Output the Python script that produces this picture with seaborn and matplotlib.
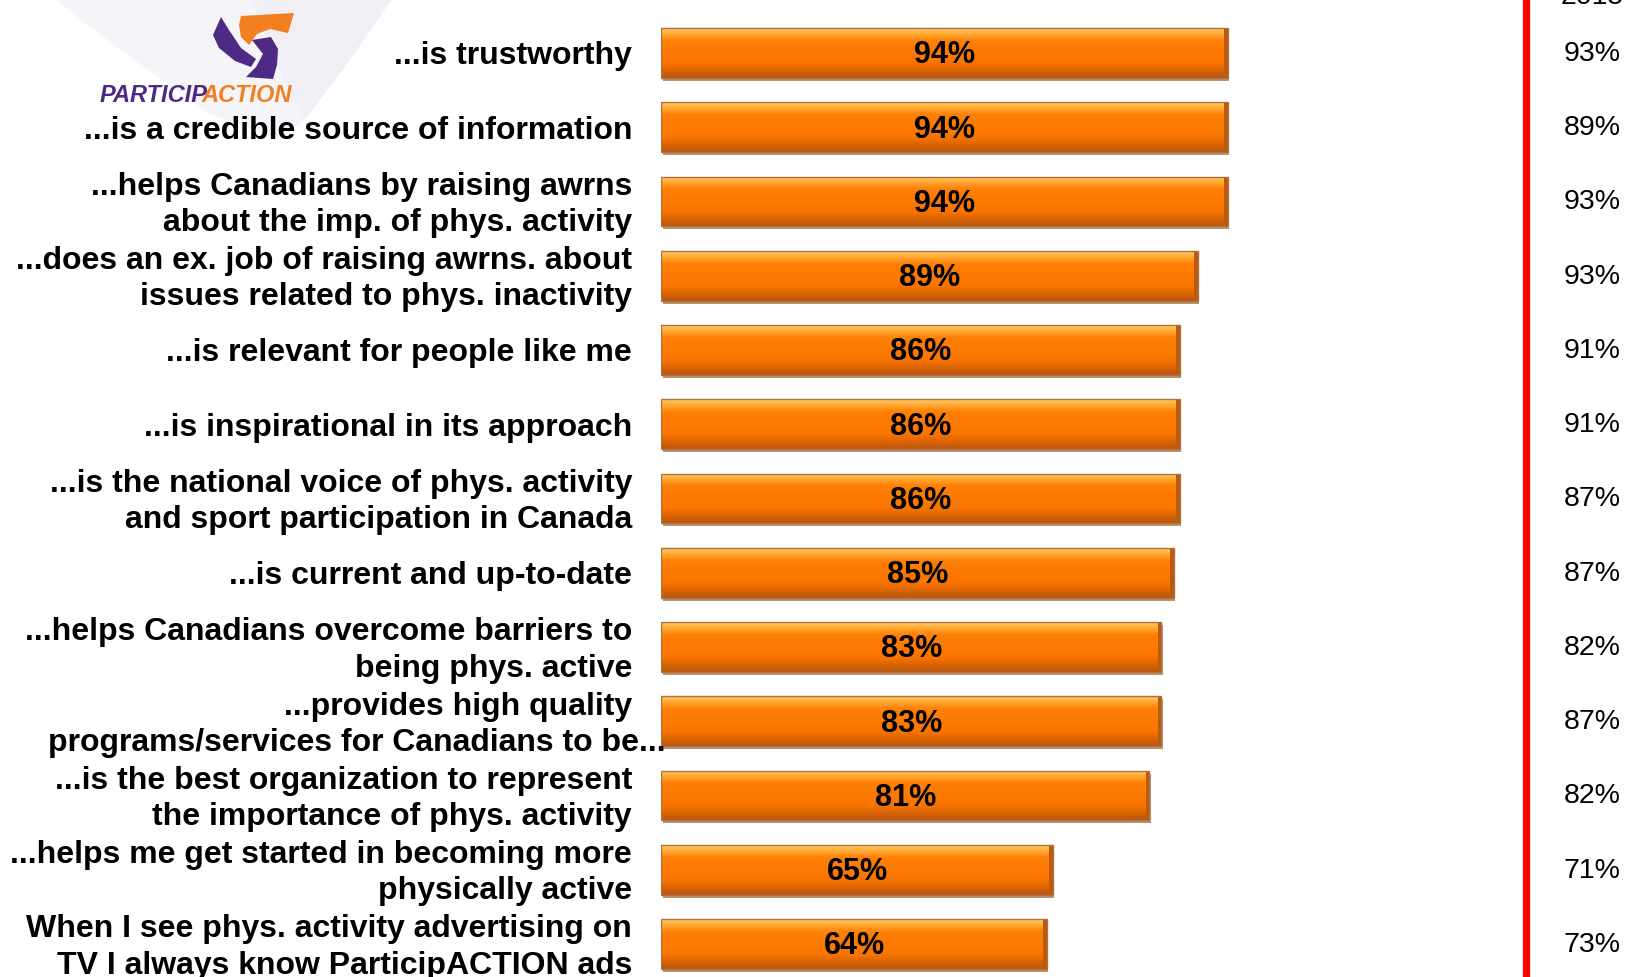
import numpy as np
import pandas as pd
import matplotlib
matplotlib.use("Agg")
import matplotlib.pyplot as plt
import seaborn as sns
from matplotlib.patches import Polygon, Rectangle

# Agreement with each statement about ParticipACTION
statements = [
    "...is trustworthy",
    "...is a credible source of information",
    "...helps Canadians by raising awrns\nabout the imp. of phys. activity",
    "...does an ex. job of raising awrns. about\nissues related to phys. inactivity",
    "...is relevant for people like me",
    "...is inspirational in its approach",
    "...is the national voice of phys. activity\nand sport participation in Canada",
    "...is current and up-to-date",
    "...helps Canadians overcome barriers to\nbeing phys. active",
    "...provides high quality\nprograms/services for Canadians to be...",
    "...is the best organization to represent\nthe importance of phys. activity",
    "...helps me get started in becoming more\nphysically active",
    "When I see phys. activity advertising on\nTV I always know ParticipACTION ads",
]
score_current = [94, 94, 94, 89, 86, 86, 86, 85, 83, 83, 81, 65, 64]
score_prior = [93, 89, 93, 93, 91, 91, 87, 87, 82, 87, 82, 71, 73]
prior_label = "2015"

sns.set_theme(style="white")
plt.rcParams["font.family"] = ["Liberation Sans", "DejaVu Sans"]

W, H = 1630, 978
fig = plt.figure(figsize=(W / 100, H / 100), dpi=100)
fig.patch.set_facecolor("white")

# background layer in pixel units: light swoosh and logo
bg = fig.add_axes([0, 0, 1, 1], zorder=0)
bg.set_xlim(0, W)
bg.set_ylim(H, 0)
bg.axis("off")
bg.add_patch(Polygon([(55, 0), (392, 0), (350, 60), (305, 120), (280, 140), (210, 115),
                      (140, 65), (90, 28)], closed=True, fc="#F5F4F8", ec="none"))
bg.add_patch(Polygon([(250, 0), (392, 0), (345, 68), (305, 120), (290, 95)],
                     closed=True, fc="#F0EFF5", ec="none"))
purple, orange = "#4E2A84", "#F28020"
bg.add_patch(Polygon([(241, 17), (294, 14), (288, 34), (270, 30), (257, 35), (249, 46),
                      (241, 38), (239, 26)], closed=True, fc=orange, ec="none"))
bg.add_patch(Polygon([(221, 18), (229, 31), (241, 49), (256, 60), (251, 68), (235, 62),
                      (219, 49), (213, 36)], closed=True, fc=purple, ec="none"))
bg.add_patch(Polygon([(252, 41), (271, 38), (278, 50), (277, 66), (273, 80), (246, 78),
                      (256, 68), (263, 55)], closed=True, fc=purple, ec="none"))
bg.text(100, 95, "PARTICIP", color=purple, fontsize=17, fontweight="heavy",
        fontstyle="italic", ha="left", va="center")
bg.text(292, 95, "ACTION", color=orange, fontsize=17, fontweight="heavy",
        fontstyle="italic", ha="right", va="center")

# main chart axes: x in percent, one row per statement
x0_px, px_per_pct = 661, 6.03
row0_px, row_px = 54, 74.25
ax = fig.add_axes([x0_px / W, 0, (W - x0_px) / W, 1], zorder=1)
ax.patch.set_alpha(0)

df = pd.DataFrame({"statement": statements, "score": score_current})
sns.barplot(data=df, x="score", y="statement", orient="h", color="#FF7A00",
            saturation=1, width=0.67, ax=ax, edgecolor="none", linewidth=0)

xmax = (W - x0_px) / px_per_pct
ytop = -row0_px / row_px
ybot = (H - row0_px) / row_px
ax.set_xlim(0, xmax)
ax.set_ylim(ybot, ytop)

# glossy vertical shading for each bar
stops = np.array([
    [0.00, 1.00, 0.80, 0.42],
    [0.10, 1.00, 0.68, 0.22],
    [0.25, 1.00, 0.50, 0.02],
    [0.70, 0.98, 0.46, 0.00],
    [0.88, 0.84, 0.38, 0.00],
    [1.00, 0.72, 0.34, 0.10],
])
t = np.linspace(0, 1, 64)
grad = np.stack([np.interp(t, stops[:, 0], stops[:, c]) for c in (1, 2, 3)], axis=-1)
for p in list(ax.patches):
    bx, by, bw, bh = p.get_x(), p.get_y(), p.get_width(), p.get_height()
    ax.add_patch(Rectangle((bx + 0.25, by + 0.04), bw, bh, fc="#A87850", ec="none",
                           alpha=0.8, zorder=1.5))
    img = np.repeat(grad[:, None, :], 8, axis=1)
    im = ax.imshow(img, extent=(bx, bx + bw, by + bh, by), aspect="auto",
                   interpolation="bilinear", zorder=2)
    im.set_clip_path(p)
    ax.add_patch(Rectangle((bx + bw - 0.6, by), 0.6, bh, fc="#B85A10", ec="none", zorder=2.5))
    ax.add_patch(Rectangle((bx, by), bw, bh, fc="none", ec="#B0723A", lw=1.0, zorder=3))
ax.set_xlim(0, xmax)
ax.set_ylim(ybot, ytop)

# value labels inside bars
for i, v in enumerate(score_current):
    ax.text(v / 2, i + 1.5 / row_px, f"{v}%", ha="center", va="center", fontsize=22,
            fontweight="bold", color="black", zorder=4)

# statement labels, one text per line so an over-long line may run past the edge
ax.set_yticks([])
ax.set_xticks([])
lab_x = (632 - x0_px) / px_per_pct
long_x = (666 - x0_px) / px_per_pct
half_gap = 18.2 / row_px
nudge = 2.5 / row_px
for i, s in enumerate(statements):
    lines = s.split("\n")
    offs = [0.0] if len(lines) == 1 else [-half_gap, half_gap]
    for line, dy in zip(lines, offs):
        xr = long_x if line.startswith("programs/") else lab_x
        ax.text(xr, i + dy + nudge, line, ha="right", va="center", fontsize=23,
                fontweight="bold", color="black", zorder=5, clip_on=False)

# divider and prior-year column
ax.axvline((1525.5 - x0_px) / px_per_pct, color="#FF0000", lw=5.2, zorder=4)
col_x = (1592 - x0_px) / px_per_pct
ax.text(col_x, (4 - row0_px) / row_px, prior_label, ha="center", va="baseline",
        fontsize=20.5, color="black")
for i, v in enumerate(score_prior):
    ax.text(col_x, i, f"{v}%", ha="center", va="center", fontsize=20.5, color="black")

for sp in ax.spines.values():
    sp.set_visible(False)
ax.set_xlabel("")
ax.set_ylabel("")

fig.savefig("out.png", dpi=100)
